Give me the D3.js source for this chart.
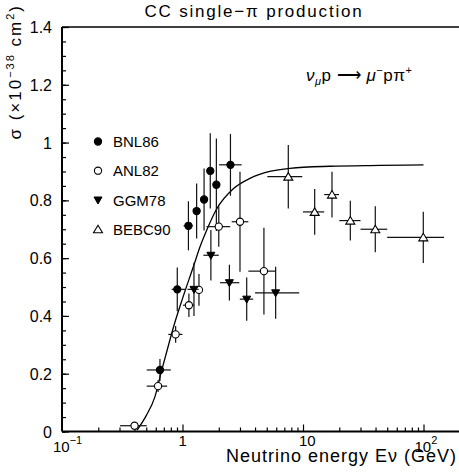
<!DOCTYPE html>
<html>
<head>
<meta charset="utf-8">
<script src="https://cdn.jsdelivr.net/npm/d3@7"></script>
<style>
  body { margin: 0; background: #fff; }
  svg { display: block; }
  text { font-family: "Liberation Sans", Arial, sans-serif; fill: #000; }
</style>
</head>
<body>
<script>
// ---- data ----
// BNL86 : filled circles
var bnlE     = [0.65, 0.905, 1.12, 1.31, 1.51, 1.70, 1.91, 2.50];
var bnlSigma = [0.213, 0.492, 0.712, 0.763, 0.803, 0.902, 0.854, 0.923];
var bnlErr   = [0.038, 0.076, 0.085, 0.095, 0.107, 0.13, 0.16, 0.107];
var bnlElo   = [0.505, 0.813, 1.02, 1.31, 1.51, 1.70, 1.91, 2.01];
var bnlEhi   = [0.80, 1.05, 1.22, 1.31, 1.51, 1.70, 1.91, 3.10];

// ANL82 : open circles
var anlE     = [0.40, 0.627, 0.877, 1.13, 1.37, 2.0, 3.0, 4.74];
var anlSigma = [0.02, 0.157, 0.336, 0.437, 0.49, 0.709, 0.726, 0.555];
var anlErr   = [0.005, 0.02, 0.029, 0.041, 0.055, 0.07, 0.173, 0.15];
var anlElo   = [0.303, 0.505, 0.762, 1.01, 1.27, 1.58, 2.56, 3.52];
var anlEhi   = [0.505, 0.746, 1.0, 1.25, 1.47, 2.49, 3.52, 5.97];

// GGM78 : filled down triangles
var ggmE     = [1.245, 1.72, 2.45, 3.41, 5.93];
var ggmSigma = [0.492, 0.61, 0.515, 0.458, 0.48];
var ggmErr   = [0.092, 0.087, 0.062, 0.075, 0.09];
var ggmElo   = [1.10, 1.49, 2.05, 2.99, 4.0];
var ggmEhi   = [1.36, 2.0, 2.96, 3.86, 9.3];

// BEBC90 : open up triangles
var bebcE     = [7.55, 12.5, 17.4, 24.7, 39.8, 99.6];
var bebcSigma = [0.882, 0.76, 0.82, 0.73, 0.70, 0.672];
var bebcErr   = [0.11, 0.079, 0.079, 0.069, 0.08, 0.089];
var bebcElo   = [5.06, 10.0, 15.0, 20.0, 30.0, 50.0];
var bebcEhi   = [9.86, 15.0, 19.9, 30.0, 50.0, 148];

// model curve
var curveE     = [0.42, 0.50, 0.59, 0.67, 0.79, 0.84, 1.0, 1.23, 1.4, 1.6, 1.92, 2.64, 3.63, 5.3, 7.8, 16.7, 43.5, 100];
var curveSigma = [0.005, 0.055, 0.12, 0.21, 0.32, 0.36, 0.46, 0.57, 0.64, 0.70, 0.77, 0.84, 0.876, 0.90, 0.911, 0.918, 0.921, 0.923];

// axis ticks
var yTickVals = [0, 0.2, 0.4, 0.6, 0.8, 1, 1.2, 1.4];
var yTickText = ["0", "0.2", "0.4", "0.6", "0.8", "1", "1.2", "1.4"];
var xTickVals = [0.1, 1, 10, 100];
var xTickBase = ["10", "1", "10", "10"];
var xTickExp  = ["\u22121", "", "", "2"];

var legendNames = ["BNL86", "ANL82", "GGM78", "BEBC90"];

// ---- layout ----
var W = 459, H = 475;
var plotLeft = 62, plotBottom = 431.5, plotTop = 27;

var x = d3.scaleLog().domain([0.1, 200]).range([plotLeft, plotLeft + 120.5 * Math.log10(2000)]);
var y = d3.scaleLinear().domain([0, 1.4]).range([plotBottom, plotTop]);

var svg = d3.select("body").append("svg")
  .attr("width", W)
  .attr("height", H);

// minor ticks
var xMinor = [];
[0.1, 1, 10, 100].forEach(function(d) {
  for (var k = 2; k <= 9; k++) { if (d * k <= 200) xMinor.push(d * k); }
});
var yMinor = d3.range(0, 1.4001, 0.05);

svg.append("g")
  .attr("transform", "translate(0," + plotBottom + ")")
  .call(d3.axisBottom(x).tickValues(xMinor).tickSize(-4).tickFormat(""))
  .call(function(g) { g.select(".domain").remove(); });
svg.append("g")
  .attr("transform", "translate(0," + plotBottom + ")")
  .call(d3.axisBottom(x).tickValues([1, 10, 100]).tickSize(-7).tickFormat(""))
  .call(function(g) { g.select(".domain").remove(); });

svg.append("g")
  .attr("transform", "translate(" + plotLeft + ",0)")
  .call(d3.axisLeft(y).tickValues(yMinor).tickSize(-4).tickFormat(""))
  .call(function(g) { g.select(".domain").remove(); });
svg.append("g")
  .attr("transform", "translate(" + plotLeft + ",0)")
  .call(d3.axisLeft(y).tickValues(yTickVals).tickSize(-7).tickFormat(""))
  .call(function(g) { g.select(".domain").remove(); });

svg.selectAll(".tick line").attr("stroke", "#000").attr("stroke-width", 1.2);

// frame
svg.append("line").attr("x1", plotLeft).attr("x2", W).attr("y1", plotBottom).attr("y2", plotBottom)
  .attr("stroke", "#000").attr("stroke-width", 2);
svg.append("line").attr("x1", plotLeft).attr("x2", plotLeft).attr("y1", plotTop).attr("y2", plotBottom)
  .attr("stroke", "#000").attr("stroke-width", 2);
svg.append("line").attr("x1", plotLeft).attr("x2", W).attr("y1", plotTop).attr("y2", plotTop)
  .attr("stroke", "#000").attr("stroke-width", 1.5);

// y tick labels
svg.selectAll(".ylab")
  .data(yTickVals)
  .enter().append("text")
  .attr("class", "ylab")
  .attr("x", 52)
  .attr("y", function(d) { return y(d) + 6; })
  .attr("text-anchor", "end")
  .style("font-size", "16px")
  .text(function(d, i) { return yTickText[i]; });

// x tick labels
xTickVals.forEach(function(d, i) {
  var t = svg.append("text")
    .attr("x", x(d) - (xTickExp[i] ? 9 : 4))
    .attr("y", xTickExp[i] ? 452 : 446)
    .style("font-size", "15px");
  t.append("tspan").text(xTickBase[i]);
  if (xTickExp[i]) {
    t.append("tspan").attr("dy", -8).style("font-size", "11px").text(xTickExp[i]);
  }
});

// axis titles
svg.append("text")
  .attr("x", 457)
  .attr("y", 462)
  .attr("text-anchor", "end")
  .style("font-size", "18px")
  .style("letter-spacing", "1px")
  .text("Neutrino energy E\u03bd (GeV)");

var yt = svg.append("text")
  .attr("transform", "translate(21,4) rotate(-90)")
  .attr("text-anchor", "end")
  .style("font-size", "17px")
  .style("letter-spacing", "2px");
yt.append("tspan").text("\u03c3 (\u00d710");
yt.append("tspan").attr("dy", -7).style("font-size", "11px").text("\u221238");
yt.append("tspan").attr("dy", 7).text(" cm");
yt.append("tspan").attr("dy", -7).style("font-size", "11px").text("2");
yt.append("tspan").attr("dy", 7).text(")");

svg.append("text")
  .attr("x", 254)
  .attr("y", 17)
  .attr("text-anchor", "middle")
  .style("font-size", "17px")
  .style("letter-spacing", "1.8px")
  .text("CC single\u2212\u03c0 production");

// reaction
var rt = svg.append("text")
  .attr("x", 306)
  .attr("y", 81)
  .style("font-size", "17px")
  .style("letter-spacing", "0.5px");
rt.append("tspan").style("font-style", "italic").text("\u03bd");
rt.append("tspan").attr("dy", 4).style("font-size", "11px").style("font-style", "italic").text("\u03bc");
rt.append("tspan").attr("dy", -4).text("p ");
rt.append("tspan").text("\u27f6 ");
rt.append("tspan").style("font-style", "italic").text("\u03bc");
rt.append("tspan").attr("dy", -7).style("font-size", "11px").text("\u2212");
rt.append("tspan").attr("dy", 7).text("p\u03c0");
rt.append("tspan").attr("dy", -7).style("font-size", "11px").text("+");

// curve
var curvePts = curveE.map(function(e, i) { return [e, curveSigma[i]]; });
svg.append("path")
  .datum(curvePts)
  .attr("fill", "none")
  .attr("stroke", "#000")
  .attr("stroke-width", 1.3)
  .attr("d", d3.line()
    .x(function(d) { return x(d[0]); })
    .y(function(d) { return y(d[1]); })
    .curve(d3.curveMonotoneX));

// data series
function pts(E, S, err, lo, hi) {
  return E.map(function(e, i) { return {e: e, s: S[i], err: err[i], lo: lo[i], hi: hi[i]}; });
}
var series = [
  {name: "BNL86", shape: "circle", fill: "#000", data: pts(bnlE, bnlSigma, bnlErr, bnlElo, bnlEhi)},
  {name: "ANL82", shape: "circle", fill: "#fff", data: pts(anlE, anlSigma, anlErr, anlElo, anlEhi)},
  {name: "GGM78", shape: "down", fill: "#000", data: pts(ggmE, ggmSigma, ggmErr, ggmElo, ggmEhi)},
  {name: "BEBC90", shape: "up", fill: "#fff", data: pts(bebcE, bebcSigma, bebcErr, bebcElo, bebcEhi)}
];

function marker(g, shape, fill, cx, cy) {
  if (shape == "circle") {
    g.append("circle").attr("cx", cx).attr("cy", cy).attr("r", 3.6)
      .attr("fill", fill).attr("stroke", "#000").attr("stroke-width", 1.1);
  } else if (shape == "down") {
    g.append("path").attr("d", "M" + (cx - 4) + "," + (cy - 3) + "L" + (cx + 4) + "," + (cy - 3) + "L" + cx + "," + (cy + 4) + "Z")
      .attr("fill", fill).attr("stroke", "#000").attr("stroke-width", 1);
  } else {
    g.append("path").attr("d", "M" + (cx - 4.5) + "," + (cy + 3.5) + "L" + (cx + 4.5) + "," + (cy + 3.5) + "L" + cx + "," + (cy - 4) + "Z")
      .attr("fill", fill).attr("stroke", "#000").attr("stroke-width", 1.1);
  }
}

series.forEach(function(ser) {
  var g = svg.append("g");
  ser.data.forEach(function(d) {
    g.append("line")
      .attr("x1", x(d.e)).attr("x2", x(d.e))
      .attr("y1", y(d.s - d.err)).attr("y2", y(d.s + d.err))
      .attr("stroke", "#111").attr("stroke-width", 1.2);
    if (d.hi > d.lo) {
      g.append("line")
        .attr("x1", x(d.lo)).attr("x2", x(d.hi))
        .attr("y1", y(d.s)).attr("y2", y(d.s))
        .attr("stroke", "#111").attr("stroke-width", 1.2);
    }
    marker(g, ser.shape, ser.fill, x(d.e), y(d.s));
  });
});

// legend
var legY = [141.5, 170.7, 200, 229.2];
series.forEach(function(ser, i) {
  marker(svg, ser.shape, ser.fill, 98, legY[i]);
  svg.append("text")
    .attr("x", 113)
    .attr("y", legY[i] + 5.5)
    .style("font-size", "15px")
    .text(legendNames[i]);
});
</script>
</body>
</html>
